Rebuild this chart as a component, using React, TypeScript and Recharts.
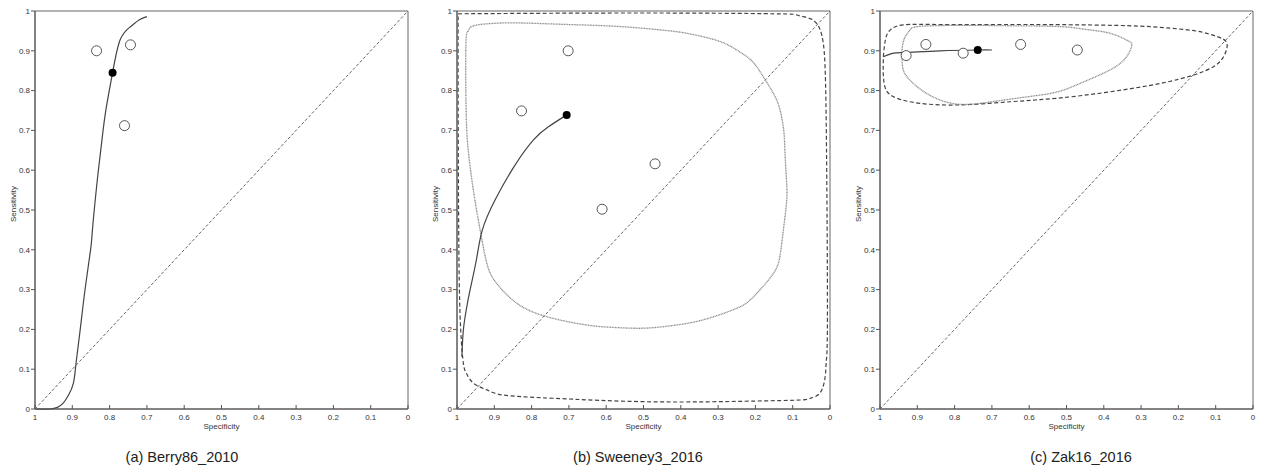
import React from "react";
import { ComposedChart, Line, Scatter, XAxis, YAxis, ReferenceArea } from "recharts";

type Pt = { x: number; y: number };
const pts = (arr: number[][]): Pt[] => arr.map(([x, y]) => ({ x, y }));

const ticks = [0, 0.1, 0.2, 0.3, 0.4, 0.5, 0.6, 0.7, 0.8, 0.9, 1];
const titles = ["(a) Berry86_2010", "(b) Sweeney3_2016", "(c) Zak16_2016"];
const diagonal = pts([[1, 0], [0, 1]]);

// (a) Berry86_2010 — specificity, sensitivity
const studiesA = pts([[0.835, 0.9], [0.744, 0.915], [0.76, 0.712]]);
const summaryA = pts([[0.792, 0.845]]);
const curveA = pts([
  [1, 0], [0.96, 0], [0.94, 0.004], [0.925, 0.014], [0.91, 0.035], [0.897, 0.065],
  [0.89, 0.115], [0.879, 0.198], [0.866, 0.299], [0.851, 0.4], [0.846, 0.45],
  [0.838, 0.53], [0.83, 0.6], [0.82, 0.68], [0.81, 0.751], [0.792, 0.845],
  [0.772, 0.927], [0.745, 0.96], [0.72, 0.978], [0.7, 0.986],
]);

// (b) Sweeney3_2016
const studiesB = pts([[0.702, 0.9], [0.827, 0.749], [0.469, 0.616], [0.611, 0.502]]);
const summaryB = pts([[0.706, 0.739]]);
const curveB = pts([
  [0.987, 0.131], [0.983, 0.198], [0.975, 0.25], [0.965, 0.299], [0.948, 0.375],
  [0.932, 0.45], [0.898, 0.525], [0.847, 0.609], [0.795, 0.676], [0.755, 0.709], [0.706, 0.739],
]);
const confB = pts([
  [0.97, 0.948], [0.955, 0.963], [0.9, 0.969], [0.831, 0.97], [0.7, 0.966], [0.563, 0.961],
  [0.45, 0.952], [0.384, 0.944], [0.3, 0.925], [0.25, 0.902], [0.21, 0.875], [0.179, 0.835],
  [0.15, 0.79], [0.134, 0.751], [0.124, 0.7], [0.121, 0.651], [0.117, 0.58], [0.116, 0.525],
  [0.125, 0.45], [0.135, 0.38], [0.156, 0.335], [0.205, 0.282], [0.25, 0.253], [0.34, 0.224],
  [0.42, 0.21], [0.5, 0.203], [0.58, 0.205], [0.652, 0.211], [0.76, 0.232], [0.84, 0.266],
  [0.894, 0.316], [0.92, 0.366], [0.938, 0.45], [0.952, 0.525], [0.97, 0.651],
  [0.976, 0.776], [0.976, 0.919], [0.97, 0.948],
]);
const predB = pts([
  [0.997, 0.993], [0.5, 0.995], [0.15, 0.993], [0.089, 0.99], [0.06, 0.983], [0.036, 0.969],
  [0.018, 0.919], [0.011, 0.776], [0.008, 0.5], [0.007, 0.198], [0.01, 0.12], [0.013, 0.081],
  [0.027, 0.04], [0.05, 0.028], [0.072, 0.023], [0.2, 0.02], [0.474, 0.018], [0.743, 0.027],
  [0.876, 0.035], [0.92, 0.048], [0.956, 0.065], [0.975, 0.09], [0.983, 0.115], [0.99, 0.198],
  [0.995, 0.4], [0.997, 0.8], [0.997, 0.993],
]);

// (c) Zak16_2016
const studiesC = pts([[0.93, 0.888], [0.877, 0.916], [0.777, 0.894], [0.623, 0.916], [0.471, 0.902]]);
const summaryC = pts([[0.738, 0.902]]);
const curveC = pts([[0.991, 0.885], [0.964, 0.894], [0.928, 0.896], [0.839, 0.9], [0.738, 0.902], [0.7, 0.902]]);
const confC = pts([
  [0.942, 0.894], [0.935, 0.93], [0.92, 0.952], [0.884, 0.962], [0.75, 0.964], [0.66, 0.963],
  [0.523, 0.961], [0.45, 0.954], [0.383, 0.944], [0.339, 0.927], [0.325, 0.915], [0.339, 0.885],
  [0.383, 0.852], [0.464, 0.818], [0.523, 0.797], [0.6, 0.785], [0.7, 0.772], [0.794, 0.766],
  [0.875, 0.793], [0.928, 0.835], [0.94, 0.865], [0.942, 0.894],
]);
const predC = pts([
  [0.991, 0.885], [0.985, 0.93], [0.973, 0.952], [0.938, 0.965], [0.839, 0.966], [0.7, 0.966],
  [0.571, 0.966], [0.45, 0.965], [0.303, 0.962], [0.2, 0.955], [0.142, 0.948], [0.097, 0.936],
  [0.07, 0.919], [0.079, 0.885], [0.106, 0.86], [0.16, 0.839], [0.249, 0.818], [0.383, 0.797],
  [0.523, 0.781], [0.65, 0.772], [0.786, 0.764], [0.893, 0.768], [0.955, 0.781], [0.987, 0.81],
  [0.991, 0.885],
]);

const AXIS = "#555";
const FONT = "'Liberation Sans', Arial, sans-serif";
const fmt = (v: number) => String(+Number(v).toFixed(1));

const XTick = ({ x, y, payload }: any) => (
  <g>
    <line x1={x} x2={x} y1={y - 4} y2={y} stroke={AXIS} />
    <text x={x} y={y + 11} textAnchor="middle" fontSize={8} fill="#333" fontFamily={FONT}>
      {fmt(payload.value)}
    </text>
  </g>
);

const OpenDot = ({ cx, cy }: any) => <circle cx={cx} cy={cy} r={5} fill="#fff" stroke="#555" strokeWidth={1} />;
const FullDot = ({ cx, cy }: any) => <circle cx={cx} cy={cy} r={4} fill="#000" />;

function Panel({ left, studies, summary, curve, conf, pred }: {
  left: number; studies: Pt[]; summary: Pt[]; curve: Pt[]; conf?: Pt[]; pred?: Pt[];
}) {
  return (
    <div style={{ position: "absolute", left, top: 0 }}>
      <ComposedChart width={420} height={440} margin={{ top: 11, right: 12, left: 0, bottom: 0 }}>
        <XAxis
          type="number" dataKey="x" domain={[0, 1]} reversed ticks={ticks} height={31}
          tick={<XTick />} tickSize={0} tickMargin={0} tickLine={false}
          axisLine={{ stroke: AXIS }} interval={0}
        />
        <YAxis
          type="number" dataKey="y" domain={[0, 1]} ticks={ticks} width={35} interval={0}
          tickFormatter={fmt} tickSize={4} tickMargin={1} tickLine={{ stroke: AXIS }}
          axisLine={{ stroke: "#777", strokeWidth: 1.6 }}
          tick={{ fontSize: 8, fill: "#333", fontFamily: FONT }}
        />
        <ReferenceArea x1={0} x2={1} y1={0} y2={1} fill="none" stroke="#666" strokeWidth={1} />
        <Line data={diagonal} dataKey="y" type="linear" stroke="#666" strokeWidth={1} strokeDasharray="3 2" dot={false} isAnimationActive={false} />
        {pred && (
          <Line data={pred} dataKey="y" type="natural" stroke="#444" strokeWidth={1.2} strokeDasharray="4 2.5" dot={false} isAnimationActive={false} />
        )}
        {conf && (
          <Line data={conf} dataKey="y" type="natural" stroke="#888" strokeWidth={1.3} strokeDasharray="1 0.6" dot={false} isAnimationActive={false} />
        )}
        <Line data={curve} dataKey="y" type="natural" stroke="#444" strokeWidth={1.2} dot={false} isAnimationActive={false} />
        <Scatter data={studies} shape={<OpenDot />} isAnimationActive={false} />
        <Scatter data={summary} shape={<FullDot />} isAnimationActive={false} />
      </ComposedChart>
      <div style={{ position: "absolute", left: -16, top: 198, width: 60, height: 12, lineHeight: "12px", textAlign: "center", fontSize: 8, color: "#333", fontFamily: FONT, transform: "rotate(-90deg)" }}>
        Sensitivity
      </div>
      <div style={{ position: "absolute", left: 35, top: 421, width: 373, textAlign: "center", fontSize: 8, lineHeight: "12px", color: "#333", fontFamily: FONT }}>
        Specificity
      </div>
    </div>
  );
}

const captionX = [182, 638, 1081];

export default function App() {
  return (
    <div style={{ position: "absolute", left: 0, top: 0, width: 1263, height: 470, background: "#fff", overflow: "hidden" }}>
      <Panel left={0} studies={studiesA} summary={summaryA} curve={curveA} />
      <Panel left={422} studies={studiesB} summary={summaryB} curve={curveB} conf={confB} pred={predB} />
      <Panel left={845} studies={studiesC} summary={summaryC} curve={curveC} conf={confC} pred={predC} />
      {titles.map((t, i) => (
        <div key={t} style={{ position: "absolute", left: captionX[i] - 100, top: 448, width: 200, textAlign: "center", fontSize: 14.5, lineHeight: "18px", color: "#222", fontFamily: FONT }}>
          {t}
        </div>
      ))}
    </div>
  );
}
